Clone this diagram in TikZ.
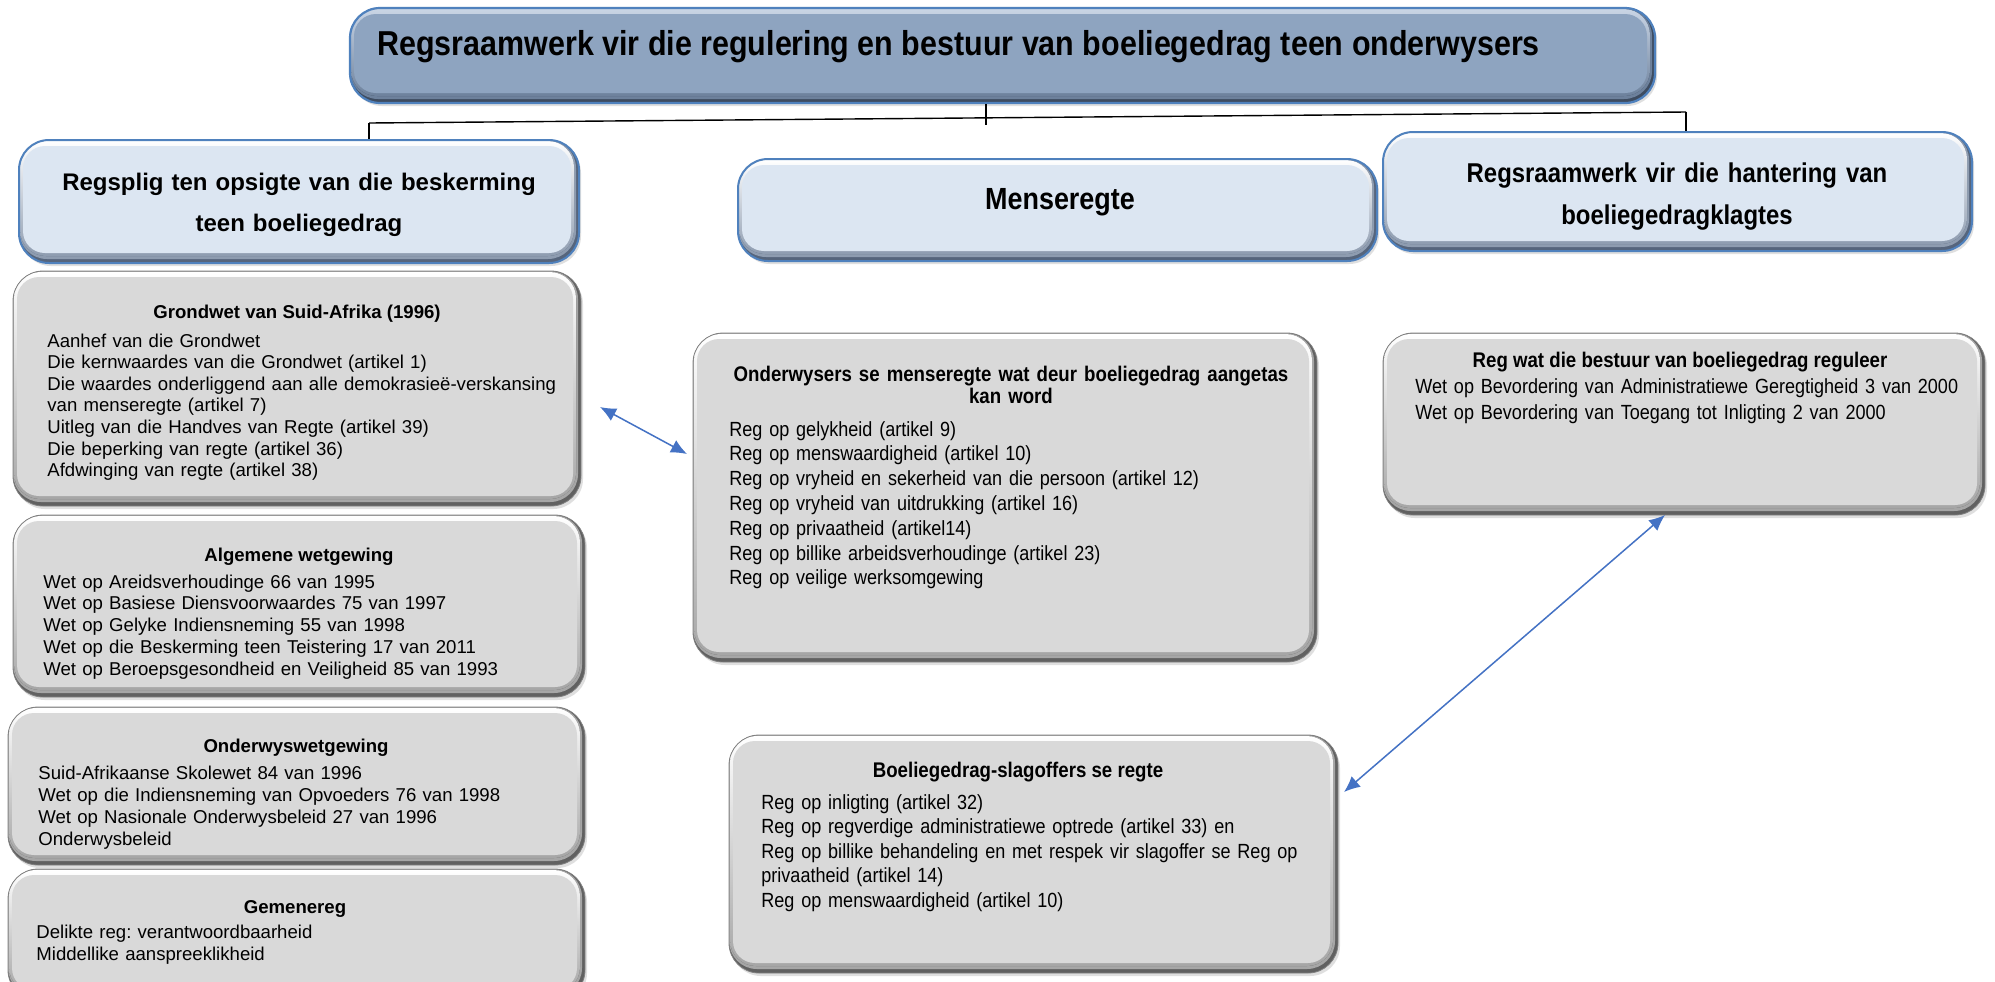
\documentclass[tikz,border=0pt]{standalone}
\usepackage{fontspec}
\setmainfont{Liberation Sans}
\newfontfamily\narrowfont[FakeStretch=0.88]{Liberation Sans}
\usetikzlibrary{arrows.meta,shadows,fit}
\frenchspacing

\definecolor{hdrblue}{HTML}{4F81BD}
\definecolor{hdrface}{HTML}{DCE6F2}
\definecolor{hdrshade}{HTML}{56657C}
\definecolor{hdrmid}{HTML}{8E9CB0}
\definecolor{topface}{HTML}{8EA4C0}
\definecolor{tophigh}{HTML}{C9D5E5}
\definecolor{topmid}{HTML}{6D819C}
\definecolor{topshade}{HTML}{3E4C60}
\definecolor{greyface}{HTML}{D9D9D9}
\definecolor{linkblue}{HTML}{4472C4}

\tikzset{
  softshadow/.style={drop shadow={opacity=0.25, shadow xshift=1pt, shadow yshift=-1.5pt}},
  % raised panel: dark rim, light top edge, flat face
  bevel/.style n args={4}{inner sep=0pt, rounded corners=15pt, fill=#1, softshadow,
    path picture={
      \fill[rounded corners=14pt, fill=#2]
        (path picture bounding box.north west) rectangle
        ([shift={(-3,-4)}]path picture bounding box.south east);
      \fill[rounded corners=13pt, top color=#3, bottom color=#2]
        ([shift={(1,1)}]path picture bounding box.north west) rectangle
        ([shift={(-5,-7)}]path picture bounding box.south east);
      \fill[rounded corners=11pt, fill=#4]
        ([shift={(4,6)}]path picture bounding box.north west) rectangle
        ([shift={(-8,-10)}]path picture bounding box.south east);}},
  greybox/.style={bevel={black!62}{black!35}{white}{greyface}, draw=black!50, line width=0.4pt},
  hdrbox/.style={bevel={hdrshade}{hdrmid}{white}{hdrface}, draw=hdrblue, line width=1pt},
  topbox/.style={bevel={topshade}{topmid}{tophigh}{topface}, draw=hdrblue, line width=1.1pt},
  boxtitle/.style={inner sep=0pt, anchor=base, font=\bfseries\fontsize{9.3}{10.8}\selectfont},
  narrowtitle/.style={inner sep=0pt, anchor=base, align=center,
    font=\narrowfont\bfseries\fontsize{10.6}{11}\selectfont},
  bodytext/.style={inner sep=0pt, anchor=base west, align=left, text width=280pt,
    font=\fontsize{9.3}{10.8}\selectfont},
  narrowbody/.style={inner sep=0pt, anchor=base west, align=left, text width=300pt,
    font=\narrowfont\fontsize{10.25}{12.4}\selectfont},
  tree/.style={draw=black, line width=0.7pt},
  linkarrow/.style={{Latex[length=8pt,width=7pt]}-{Latex[length=8pt,width=7pt]},
    draw=linkblue, fill=linkblue, line width=0.75pt}
}

\begin{document}
\begin{tikzpicture}[x=0.5pt,y=-0.5pt]
\useasboundingbox (0,0) rectangle (1995,981);
\fill[white] (0,0) rectangle (1995,981);

% title bar
\node[topbox, fit={(350,8) (1655,103)}] (head) {};
\node[inner sep=0pt, anchor=base west, font=\narrowfont\bfseries\fontsize{17.3}{20}\selectfont]
  (headtxt) at (377,55) {Regsraamwerk vir die regulering en bestuur van boeliegedrag teen onderwysers};

% three column headings
\node[hdrbox, fit={(19,140) (579,263)}] (dutyhead) {};
\node[inner sep=0pt, anchor=base, align=center, text width=270pt,
  font=\bfseries\fontsize{12}{20.5}\selectfont] (dutytxt) at (299,190)
  {Regsplig ten opsigte van die beskerming\\teen boeliegedrag};

\node[hdrbox, fit={(738,159) (1377,261)}] (rightshead) {};
\node[inner sep=0pt, anchor=base, font=\narrowfont\bfseries\fontsize{15.3}{18}\selectfont]
  (rightstxt) at (1060,209) {Menseregte};

\node[hdrbox, fit={(1383,132) (1972,251)}] (ruleshead) {};
\node[inner sep=0pt, anchor=base, align=center, text width=280pt,
  font=\narrowfont\bfseries\fontsize{13.6}{21}\selectfont] (rulestxt) at (1677,182)
  {Regsraamwerk vir die hantering van\\boeliegedragklagtes};

% left column
\node[greybox, fit={(13,271) (581,506)}] (grond) {};
\node[boxtitle] (grondtitle) at (297,318) {Grondwet van Suid-Afrika (1996)};
\node[bodytext] (grondtxt) at (47,347) {Aanhef van die Grondwet\\
  Die kernwaardes van die Grondwet (artikel 1)\\
  Die waardes onderliggend aan alle demokrasieë-verskansing\\
  van menseregte (artikel 7)\\
  Uitleg van die Handves van Regte (artikel 39)\\
  Die beperking van regte (artikel 36)\\
  Afdwinging van regte (artikel 38)};

\node[greybox, fit={(13,515) (585,697)}] (algemeen) {};
\node[boxtitle] (algtitle) at (299,561) {Algemene wetgewing};
\node[bodytext, font=\fontsize{9.3}{10.9}\selectfont] (algtxt) at (43,588) {Wet op Areidsverhoudinge 66 van 1995\\
  Wet op Basiese Diensvoorwaardes 75 van 1997\\
  Wet op Gelyke Indiensneming 55 van 1998\\
  Wet op die Beskerming teen Teistering 17 van 2011\\
  Wet op Beroepsgesondheid en Veiligheid 85 van 1993};

\node[greybox, fit={(8,707) (585,865)}] (onderwys) {};
\node[boxtitle] (ondtitle) at (296,752) {Onderwyswetgewing};
\node[bodytext, font=\fontsize{9.3}{11}\selectfont] (ondtxt) at (38,779) {Suid-Afrikaanse Skolewet 84 van 1996\\
  Wet op die Indiensneming van Opvoeders 76 van 1998\\
  Wet op Nasionale Onderwysbeleid 27 van 1996\\
  Onderwysbeleid};

\node[greybox, fit={(8,869) (585,1000)}] (gemene) {};
\node[boxtitle] (gemtitle) at (295,913) {Gemenereg};
\node[bodytext, font=\fontsize{9.3}{11}\selectfont] (gemtxt) at (36,938) {Delikte reg: verantwoordbaarheid\\
  Middellike aanspreeklikheid};

% middle column
\node[greybox, fit={(693,333) (1317,662)}] (onderwysers) {};
\node[narrowtitle, text width=300pt] (onwtitle) at (1011,381)
  {Onderwysers se menseregte wat deur boeliegedrag aangetas\\kan word};
\node[narrowbody] (onwtxt) at (729,436) {Reg op gelykheid (artikel 9)\\
  Reg op menswaardigheid (artikel 10)\\
  Reg op vryheid en sekerheid van die persoon (artikel 12)\\
  Reg op vryheid van uitdrukking (artikel 16)\\
  Reg op privaatheid (artikel14)\\
  Reg op billike arbeidsverhoudinge (artikel 23)\\
  Reg op veilige werksomgewing};

\node[greybox, fit={(729,735) (1338,973)}] (slagoffers) {};
\node[narrowtitle] (slagtitle) at (1018,777) {Boeliegedrag-slagoffers se regte};
\node[narrowbody, font=\narrowfont\fontsize{10.25}{12.25}\selectfont] (slagtxt) at (761,809) {Reg op inligting (artikel 32)\\
  Reg op regverdige administratiewe optrede (artikel 33) en\\
  Reg op billike behandeling en met respek vir slagoffer se Reg op\\
  privaatheid (artikel 14)\\
  Reg op menswaardigheid (artikel 10)};

% right column
\node[greybox, fit={(1383,333) (1985,515)}] (bestuur) {};
\node[narrowtitle] (besttitle) at (1680,367) {Reg wat die bestuur van boeliegedrag reguleer};
\node[narrowbody, font=\narrowfont\fontsize{10.25}{13}\selectfont] (besttxt) at (1415,393)
  {Wet op Bevordering van Administratiewe Geregtigheid 3 van 2000\\
  Wet op Bevordering van Toegang tot Inligting 2 van 2000};

% tree connectors from the title bar
\coordinate (busL) at (369,123);
\coordinate (busR) at (1686,112);
\coordinate (busM) at (986,125);
\draw[tree] (busM |- head.south) -- (busM);
\draw[tree] (busL) -- (busR);
\draw[tree] (busL) -- (busL |- dutyhead.north);
\draw[tree] (busR) -- (busR |- ruleshead.north);

% cross links
\coordinate (lnkA1) at (600,407);
\coordinate (lnkA2) at (687,454);
\draw[linkarrow] (lnkA1) -- (lnkA2);
\coordinate (lnkB1) at (1665,515);
\coordinate (lnkB2) at (1344,792);
\draw[linkarrow] (lnkB1) -- (lnkB2);
\end{tikzpicture}
\end{document}
